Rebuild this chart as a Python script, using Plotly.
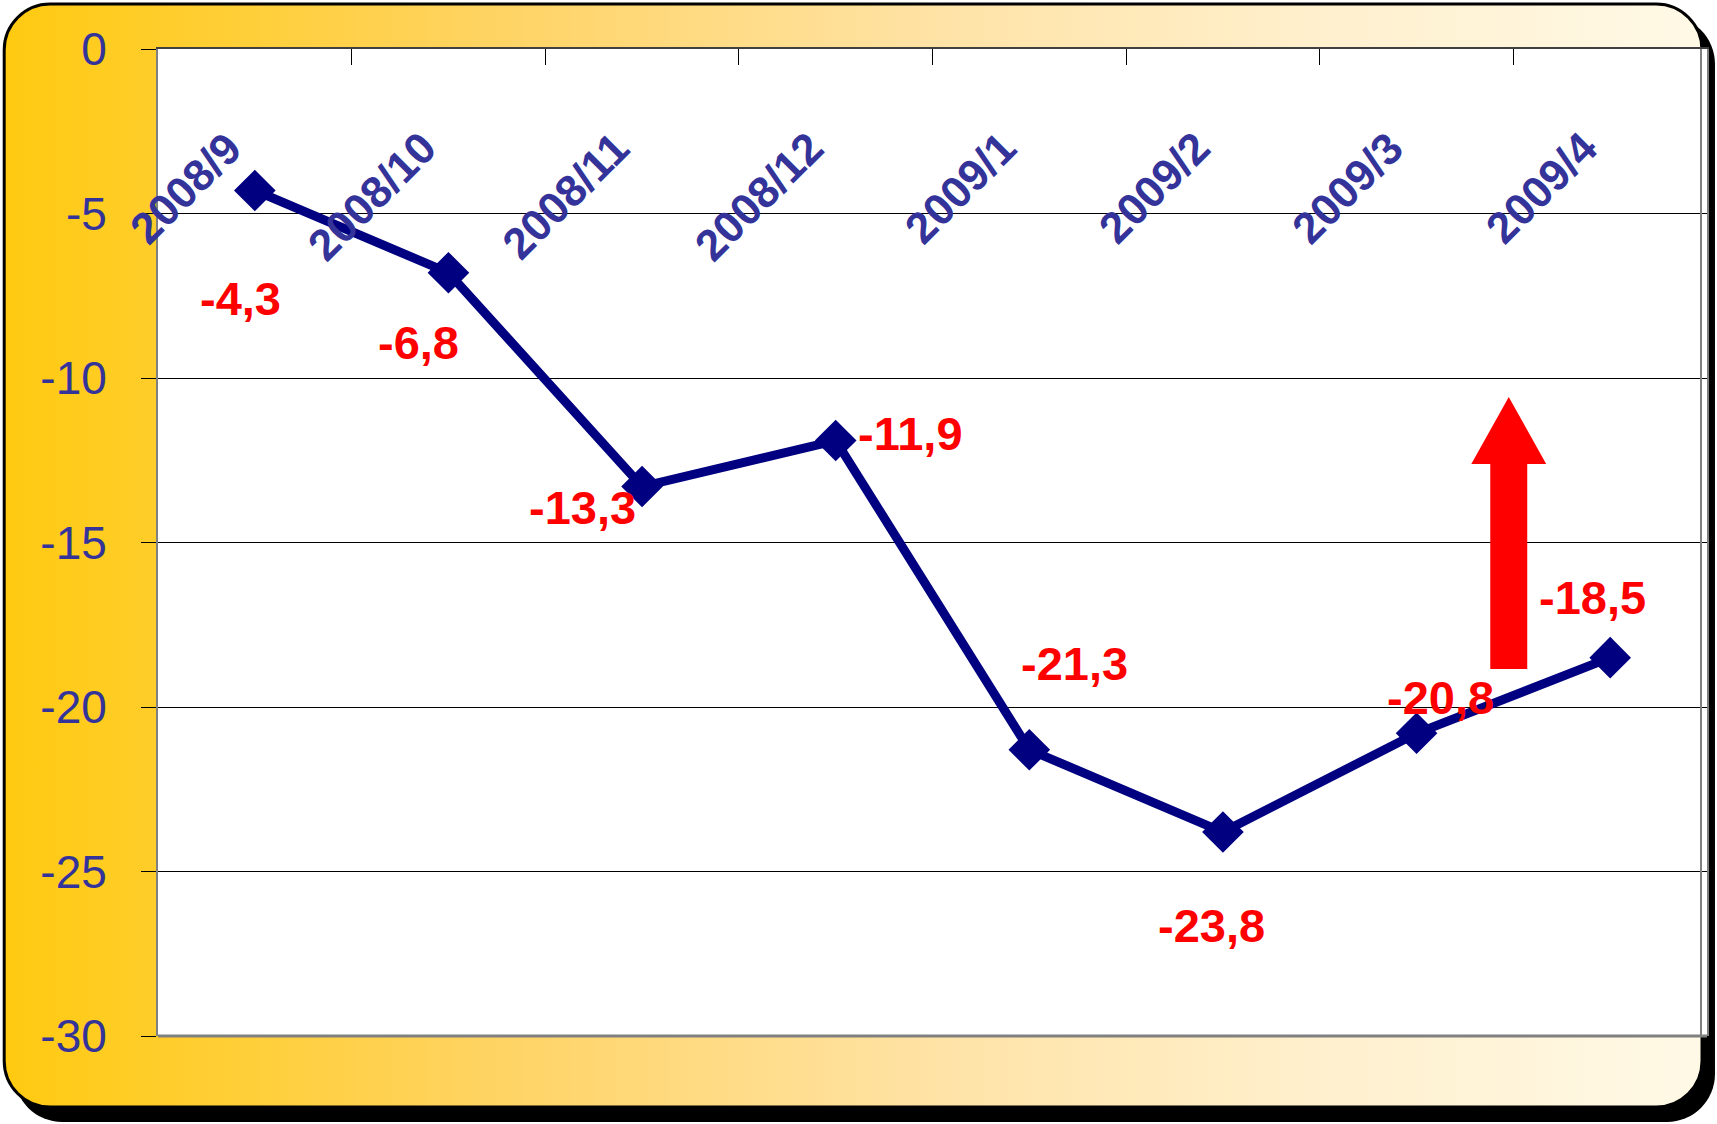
import base64
import plotly.graph_objects as go

# ---------------- data ----------------
categories = ["2008/9", "2008/10", "2008/11", "2008/12", "2009/1", "2009/2", "2009/3", "2009/4"]
values = [-4.3, -6.8, -13.3, -11.9, -21.3, -23.8, -20.8, -18.5]
y_ticks = [0, -5, -10, -15, -20, -25, -30]

# label offsets (px) from each point: (dx right, dy down)
label_offsets = [(-14, 108), (-30, 70), (-60, 21), (75, -7), (45, -86), (-11, 93), (24, -36), (-18, -60)]

# ---------------- geometry ----------------
W, H = 1717, 1124
L, R, T, B = 158, 8, 49, 88
PW, PH = W - L - R, H - T - B

def px(x):
    return (x - L) / PW

def py(y):
    return (H - B - y) / PH

NAVY = "#000080"
TXT = "#333399"
RED = "#FF0000"
FONT = "Liberation Sans, Arial, sans-serif"

# background frame as svg (gradient rounded rectangle + shadow)
svg = f"""<svg xmlns='http://www.w3.org/2000/svg' width='{W}' height='{H}' viewBox='0 0 {W} {H}'>
<defs><linearGradient id='g' x1='0' y1='0' x2='1' y2='0'>
<stop offset='0' stop-color='#FFCA10'/>
<stop offset='0.3' stop-color='#FFD466'/>
<stop offset='0.55' stop-color='#FFE3A6'/>
<stop offset='0.78' stop-color='#FFF0CE'/>
<stop offset='1' stop-color='#FFF9E6'/>
</linearGradient></defs>
<rect x='14' y='16' width='1703' height='1106' rx='48' ry='48' fill='#000'/>
<rect x='4' y='4' width='1700' height='1103' rx='46' ry='46' fill='url(#g)' stroke='#000' stroke-width='3'/>
</svg>"""
svg_uri = "data:image/svg+xml;base64," + base64.b64encode(svg.encode()).decode()

fig = go.Figure()

fig.add_trace(go.Scatter(
    x=categories, y=values, mode="lines+markers",
    line=dict(color=NAVY, width=9),
    marker=dict(symbol="diamond", size=32, color=NAVY),
    cliponaxis=False, hoverinfo="skip", showlegend=False,
))

annotations = []
for c, v, (dx, dy) in zip(categories, values, label_offsets):
    annotations.append(dict(
        x=c, y=v, xref="x", yref="y", text=f"{v:.1f}".replace(".", ","),
        showarrow=False, xshift=dx, yshift=-dy,
        font=dict(family=FONT, size=47, color=RED, weight="bold"),
        xanchor="center", yanchor="middle",
    ))

for c in categories:
    annotations.append(dict(
        x=c, y=-2.15, xref="x", yref="y", text=c, showarrow=False,
        textangle=-45, xanchor="right", yanchor="top", xshift=-1,
        font=dict(family=FONT, size=44, color=TXT, weight="bold"),
    ))

# block arrow (decoration)
ax_l, ax_r, hx_l, hx_r = 1492, 1529, 1473, 1548
a_bot, a_base, a_tip = 669, 464, 397
tipx = (hx_l + hx_r) / 2
pts = [(ax_l, a_bot), (ax_l, a_base), (hx_l, a_base), (tipx, a_tip),
       (hx_r, a_base), (ax_r, a_base), (ax_r, a_bot)]
path = "M " + " L ".join(f"{px(x):.5f},{py(y):.5f}" for x, y in pts) + " Z"

shapes = [
    # white plot area above the background image
    dict(type="rect", xref="paper", yref="paper", x0=0, x1=1, y0=0, y1=1,
         fillcolor="white", line=dict(width=0), layer="below"),
    dict(type="path", path=path, xref="paper", yref="paper",
         fillcolor=RED, line=dict(width=0)),
    # bottom border of plot area
    dict(type="line", xref="paper", yref="paper", x0=0, x1=1, y0=0, y1=0,
         line=dict(color="#808080", width=3)),
    # double right border
    dict(type="line", xref="paper", yref="paper", x0=px(1703), x1=px(1703), y0=0, y1=1,
         line=dict(color="#808080", width=2)),
]

fig.update_layout(
    width=W, height=H,
    margin=dict(l=L, r=R, t=T, b=B, pad=0),
    paper_bgcolor="white",
    plot_bgcolor="rgba(0,0,0,0)",
    font=dict(family=FONT),
    annotations=annotations,
    shapes=shapes,
    images=[dict(source=svg_uri, xref="paper", yref="paper",
                 x=-L / PW, y=1 + T / PH, sizex=W / PW, sizey=H / PH,
                 xanchor="left", yanchor="top", sizing="stretch", layer="below")],
    xaxis=dict(
        type="category", side="top", range=[-0.5, len(categories) - 0.5],
        showgrid=False, zeroline=False, showticklabels=False,
        tickson="boundaries", ticks="inside", ticklen=16, tickwidth=1, tickcolor="#000",
        showline=True, linecolor="#404040", linewidth=2,
    ),
    yaxis=dict(
        range=[-30, 0], tickvals=y_ticks, ticktext=[str(t) for t in y_ticks],
        showgrid=True, gridcolor="#000", gridwidth=1, zeroline=False,
        ticks="outside", ticklen=15, tickwidth=1, tickcolor="#000",
        tickfont=dict(family=FONT, size=46, color=TXT),
        ticklabelstandoff=25,
        showline=True, linecolor="#808080", linewidth=2, mirror=True,
    ),
)

fig.write_html("out.html", config={"displayModeBar": False},
               post_script="document.body.style.margin='0';document.body.style.overflow='hidden';")
